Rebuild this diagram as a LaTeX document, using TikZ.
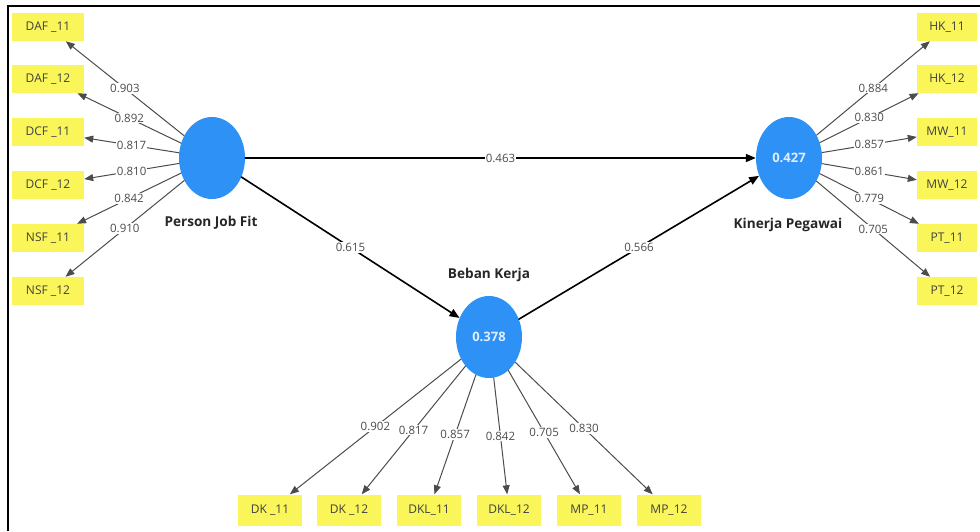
\documentclass[tikz,border=0pt]{standalone}
\usepackage{fontspec}
\setmainfont{Open Sans}
\usetikzlibrary{arrows.meta,shapes.geometric}
\begin{document}
\begin{tikzpicture}[x=1pt,y=-1pt,line cap=round,
% Styles
latent/.style={ellipse,fill=latentcolor,minimum width=66pt,minimum height=82pt,inner sep=0pt,text=latenttext,font=\bfseries\fontsize{13}{15}\selectfont},
indicator/.style={fill=itemcolor,minimum height=28pt,inner sep=0pt,text=itemtext,font=\fontsize{12}{14}\selectfont},
loading/.style={draw=loadcolor,line width=1pt,-{Triangle[length=9pt,width=7pt]}},
important line/.style={draw=black,line width=1.6pt,-{Triangle[length=10pt,width=8pt]}},
coef/.style={fill=white,inner sep=1pt,text=coefcolor,font=\fontsize{11.5}{13}\selectfont},
caption text/.style={text=black!85,font=\bfseries\fontsize{13.6}{16}\selectfont}]
% Colors
\definecolor{latentcolor}{RGB}{46,145,245}
\definecolor{latenttext}{RGB}{225,238,255}
\definecolor{itemcolor}{RGB}{250,246,90}
\colorlet{itemtext}{black!75}
\colorlet{loadcolor}{black!70}
\colorlet{coefcolor}{black!70}
\useasboundingbox (0,0) rectangle (980,531);
% Frame
\draw[line width=2pt,line cap=butt] (8,531) -- (8,6) -- (980,6);
% Latent variables
\node[latent] (pjf) at (212,158) {};
\node[latent] (kp) at (789,158) {0.427};
\node[latent] (bk) at (489,337) {0.378};
\node[caption text] (pjf label) at (211,223) {Person Job Fit};
\node[caption text] (kp label) at (788,225) {Kinerja Pegawai};
\node[caption text] (bk label) at (489,275) {Beban Kerja};
% Indicators of Person Job Fit
\foreach \ind/\y/\val [count=\i] in {DAF \_11/27/0.903, DAF \_12/79/0.892, DCF \_11/132/0.817, DCF \_12/185/0.810, NSF \_11/238/0.842, NSF \_12/291/0.910}{
    \node[indicator,minimum width=72pt] (pjf\i) at (48,\y) {\ind};
    \draw[loading] (pjf) -- node[coef] {\val} (pjf\i);
}
% Indicators of Kinerja Pegawai
\foreach \ind/\y/\val [count=\i] in {HK\_11/27/0.884, HK\_12/79/0.830, MW\_11/132/0.857, MW\_12/185/0.861, PT\_11/238/0.779, PT\_12/291/0.705}{
    \node[indicator,minimum width=60pt] (kp\i) at (947,\y) {\ind};
    \draw[loading] (kp) -- node[coef] {\val} (kp\i);
}
% Indicators of Beban Kerja
\foreach \ind/\x/\val [count=\i] in {DK \_11/270/0.902, DK \_12/349/0.817, DKL\_11/429/0.857, DKL\_12/509/0.842, MP\_11/589/0.705, MP\_12/669/0.830}{
    \node[indicator,minimum width=64pt,minimum height=31pt] (bk\i) at (\x,510) {\ind};
    \draw[loading] (bk) -- node[coef] {\val} (bk\i);
}
% Structural paths
\draw[important line] (pjf) -- node[coef] {0.463} (kp);
\draw[important line] (pjf) -- node[coef] {0.615} (bk);
\draw[important line] (bk) -- node[coef] {0.566} (kp);
\end{tikzpicture}
\end{document}
